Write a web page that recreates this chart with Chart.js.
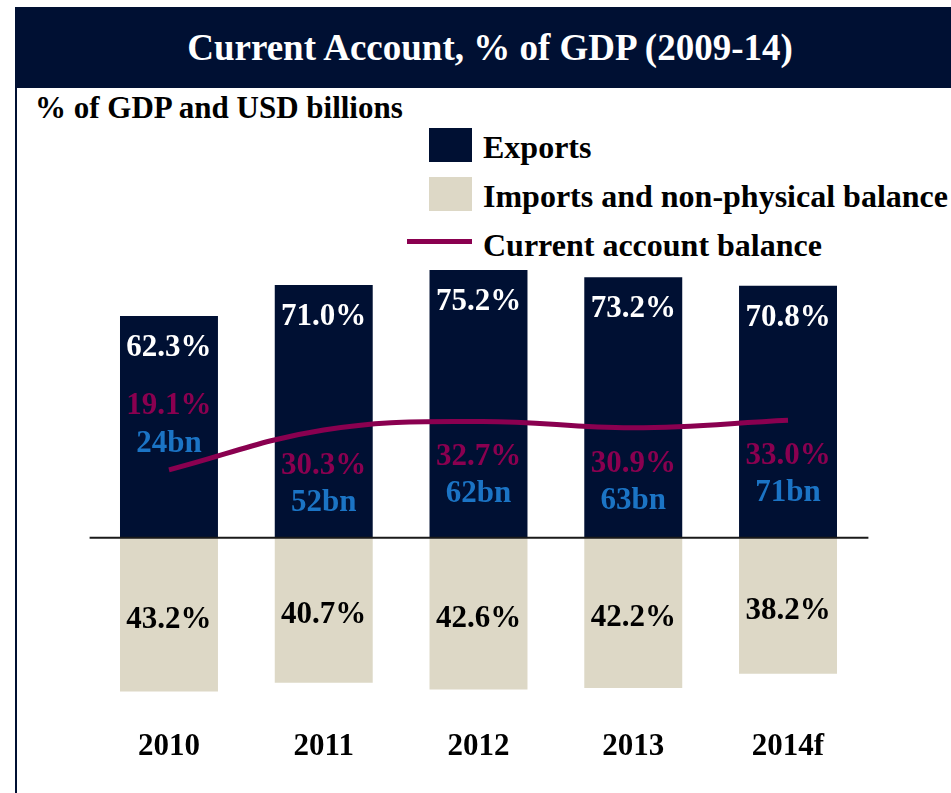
<!DOCTYPE html>
<html>
<head>
<meta charset="utf-8">
<script src="https://cdn.jsdelivr.net/npm/chart.js@4/dist/chart.umd.min.js"></script>
<style>
  html, body { margin: 0; padding: 0; background: #fff; }
  body { width: 951px; height: 793px; position: relative; overflow: hidden;
         font-family: "Liberation Serif", "Times New Roman", serif; font-weight: bold; }
  #chart { position: absolute; left: 0; top: 0; }
  .title-bar { position: absolute; left: 15px; top: 7px; width: 936px; height: 81px;
               background: #001033; color: #fff; font-size: 37px; line-height: 81px;
               text-align: center; padding-left: 14px; box-sizing: border-box; }
  .side-rule { position: absolute; left: 15px; top: 88px; width: 2px; height: 705px; background: #001033; }
  .subtitle { position: absolute; left: 35px; top: 90px; font-size: 31px; line-height: 36px; color: #000; }
  .legend { position: absolute; left: 407px; top: 128px; }
  .legend-item { position: relative; height: 49px; }
  .legend-item .swatch { position: absolute; left: 22px; top: 0; width: 43px; height: 34px; }
  .legend-item .stroke { position: absolute; left: 0; width: 65px; height: 5px; }
  .legend-item span { position: absolute; left: 76px; top: 1px; font-size: 32px; line-height: 36px;
                      color: #000; white-space: nowrap; }
</style>
</head>
<body>
<div class="title-bar">Current Account, % of GDP (2009-14)</div>
<div class="side-rule"></div>
<div class="subtitle">% of GDP and USD billions</div>
<div class="legend" id="legend"></div>
<canvas id="chart" width="951" height="793"></canvas>
<script>
const years = ['2010', '2011', '2012', '2013', '2014f'];
const exportsPct = [62.3, 71.0, 75.2, 73.2, 70.8];
const importsPct = [43.2, 40.7, 42.6, 42.2, 38.2];
const balancePct = [19.1, 30.3, 32.7, 30.9, 33.0];
const balanceUsdBn = [24, 52, 62, 63, 71];

const NAVY = '#001033';
const SAND = '#ddd8c6';
const PLUM = '#8a0050';
const BLUE = '#1b74c5';
const FONT = '"Liberation Serif", "Times New Roman", serif';

const fmtPct = (v) => v.toFixed(1) + '%';

// value labels on the bars and around the balance line
const valueLabels = {
  id: 'valueLabels',
  afterDatasetsDraw(chart) {
    const { ctx, chartArea, scales } = chart;
    const zeroY = scales.y.getPixelForValue(0);

    // axis line at zero
    ctx.save();
    ctx.strokeStyle = '#1a1a1a';
    ctx.lineWidth = 2;
    ctx.beginPath();
    ctx.moveTo(chartArea.left - 2, zeroY);
    ctx.lineTo(chartArea.right + 3, zeroY);
    ctx.stroke();

    ctx.textAlign = 'center';
    ctx.textBaseline = 'middle';
    ctx.font = 'bold 31px ' + FONT;

    const expBars = chart.getDatasetMeta(1).data;
    const impBars = chart.getDatasetMeta(2).data;
    const linePts = chart.getDatasetMeta(0).data;

    expBars.forEach((bar, i) => {
      ctx.fillStyle = '#fff';
      ctx.fillText(fmtPct(exportsPct[i]), bar.x, bar.y + 32);
    });

    impBars.forEach((bar, i) => {
      ctx.fillStyle = '#000';
      ctx.fillText(fmtPct(importsPct[i]), bar.x, (bar.y + zeroY) / 2 + 5);
    });

    linePts.forEach((pt, i) => {
      // labels go under the line unless they would run into the zero axis
      const below = pt.y + 90 < zeroY;
      const pctY = below ? pt.y + 36 : pt.y - 64;
      const usdY = below ? pt.y + 73 : pt.y - 26;
      ctx.fillStyle = PLUM;
      ctx.fillText(fmtPct(balancePct[i]), pt.x, pctY);
      ctx.fillStyle = BLUE;
      ctx.fillText(balanceUsdBn[i] + 'bn', pt.x, usdY);
    });
    ctx.restore();
  }
};

const chart = new Chart(document.getElementById('chart'), {
  type: 'bar',
  data: {
    labels: years,
    datasets: [
      {
        type: 'line',
        label: 'Current account balance',
        data: balancePct,
        stack: 'balance',
        borderColor: PLUM,
        backgroundColor: PLUM,
        borderWidth: 5,
        pointRadius: 0,
        tension: 0.4,
        order: 0,
      },
      {
        label: 'Exports',
        data: exportsPct,
        backgroundColor: NAVY,
        barPercentage: 1,
        categoryPercentage: 0.633,
        order: 1,
      },
      {
        label: 'Imports and non-physical balance',
        data: importsPct.map((v) => -v),
        backgroundColor: SAND,
        barPercentage: 1,
        categoryPercentage: 0.633,
        order: 1,
      },
    ],
  },
  options: {
    responsive: false,
    animation: false,
    layout: { padding: { left: 91.6, right: 85.6, top: 253, bottom: 14 } },
    plugins: {
      legend: { display: false },
      tooltip: { enabled: false },
    },
    scales: {
      x: {
        stacked: true,
        grid: { display: false, drawTicks: false },
        border: { display: false },
        ticks: { color: '#000', padding: 13, font: { family: FONT, size: 31, weight: 'bold' } },
      },
      y: { stacked: true, display: false, min: -50, max: 80 },
    },
  },
  plugins: [valueLabels],
});

// legend: bars first, then the line
const legendEl = document.getElementById('legend');
[1, 2, 0].forEach((idx) => {
  const ds = chart.data.datasets[idx];
  const item = document.createElement('div');
  item.className = 'legend-item';
  const mark = document.createElement('div');
  if (ds.type === 'line') {
    mark.className = 'stroke';
    mark.style.top = '13px';
    mark.style.background = ds.borderColor;
  } else {
    mark.className = 'swatch';
    mark.style.background = ds.backgroundColor;
  }
  const text = document.createElement('span');
  text.textContent = ds.label;
  item.appendChild(mark);
  item.appendChild(text);
  legendEl.appendChild(item);
});
</script>
</body>
</html>
